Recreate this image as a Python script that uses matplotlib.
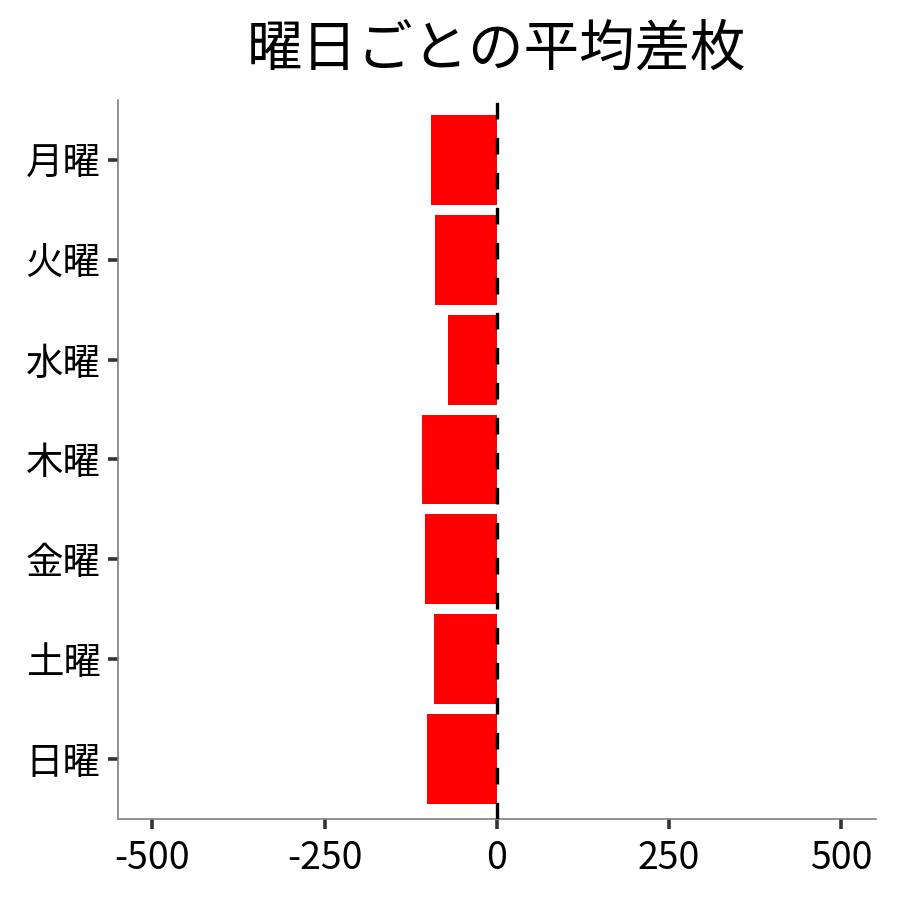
import numpy as np
import matplotlib
matplotlib.use('Agg')
import matplotlib.pyplot as plt

plt.rcParams['font.family'] = ['Noto Sans CJK JP', 'DejaVu Sans']

days = ['月曜', '火曜', '水曜', '木曜', '金曜', '土曜', '日曜']
mean_diff = [-96, -89, -71, -108, -104, -91, -102]
xticks = [-500, -250, 0, 250, 500]

fig = plt.figure(figsize=(9, 9), dpi=100)
ax = fig.add_axes([0.131, 0.09, 0.842, 0.799])

ypos = np.arange(len(days))[::-1]
ax.barh(ypos, mean_diff, height=0.9, color='#ff0000', zorder=2)
ax.axvline(0, color='black', lw=2.4, ls=(0, (5, 5.5)), zorder=3)

ax.set_xlim(-550, 550)
ax.set_ylim(-0.6, len(days) - 0.4)
ax.set_yticks(ypos)
ax.set_yticklabels(days)
ax.set_xticks(xticks)
ax.set_xticklabels([str(t) for t in xticks])

for side in ['top', 'right']:
    ax.spines[side].set_visible(False)
for side in ['left', 'bottom']:
    ax.spines[side].set_color('#7f7f7f')
    ax.spines[side].set_linewidth(1.2)
ax.tick_params(axis='both', length=7.5, width=2.6, color='#333333',
               labelsize=27, labelcolor='black')
ax.tick_params(axis='x', pad=7)
ax.tick_params(axis='y', pad=5)

ax.set_title('曜日ごとの平均差枚', fontsize=40, pad=25)

plt.savefig('out.png', dpi=100)
